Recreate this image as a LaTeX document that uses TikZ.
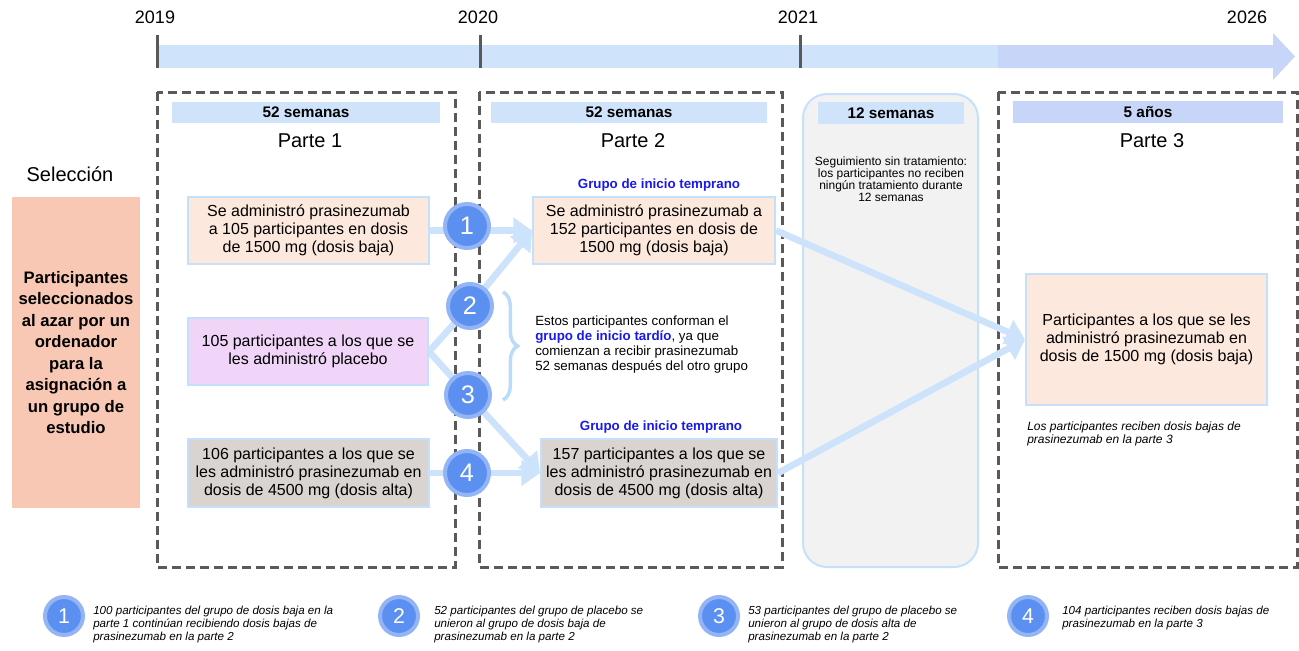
\documentclass[tikz,border=0pt]{standalone}
\usepackage{fontspec}
\setmainfont{Liberation Sans}
\usetikzlibrary{arrows.meta, decorations.pathreplacing}
\definecolor{barblue}{RGB}{207,228,251}
\definecolor{barlilac}{RGB}{199,213,249}
\definecolor{framegray}{RGB}{89,89,89}
\definecolor{edgeblue}{RGB}{197,224,250}
\definecolor{linkblue}{RGB}{204,227,251}
\definecolor{braceblue}{RGB}{186,220,250}
\definecolor{peach}{RGB}{253,232,221}
\definecolor{lilac}{RGB}{240,213,248}
\definecolor{greige}{RGB}{217,212,208}
\definecolor{salmon}{RGB}{248,200,180}
\definecolor{pausegray}{RGB}{242,242,242}
\definecolor{numblue}{RGB}{91,143,240}
\definecolor{ringblue}{RGB}{147,181,246}
\definecolor{textblue}{RGB}{25,25,235}

\pgfdeclarelayer{back}
\pgfdeclarelayer{mid}
\pgfsetlayers{back,mid,main}

\tikzset{
  boxsize/.style 2 args={minimum width=#1*0.75pt, minimum height=#2*0.75pt},
  armbox/.style={draw=edgeblue, line width=1.5pt, inner sep=0pt, align=center, font=\fontsize{12}{13.6}\selectfont},
  weekbar/.style={fill=barblue, inner sep=0pt, font=\bfseries\fontsize{11.5}{12}\selectfont},
  parttitle/.style={font=\fontsize{15}{16}\selectfont},
  yearlabel/.style={font=\fontsize{13.5}{14}\selectfont},
  grouplabel/.style={text=textblue, font=\bfseries\fontsize{10}{11}\selectfont},
  dashframe/.style={draw=framegray, line width=2.25pt, dash pattern=on 7pt off 3.5pt},
  numdot/.style={circle, fill=numblue, draw=ringblue, line width=3pt, minimum size=33pt, inner sep=0pt, text=white, font=\fontsize{19}{19}\selectfont},
  keydot/.style={numdot, minimum size=28.5pt, font=\fontsize{16}{16}\selectfont},
  link/.style={draw=linkblue, line width=5pt},
  linkarrow/.style={link, -{Triangle[length=14pt, width=19pt]}},
  keytext/.style={anchor=west, align=left, inner sep=0pt, font=\itshape\fontsize{8.7}{9.4}\selectfont},
}

\begin{document}
\begin{tikzpicture}[x=0.75pt, y=-0.75pt]
\useasboundingbox (0,0) rectangle (1299,650);

% timeline
\fill[barblue] (157,45) rectangle (998,68);
\fill[barlilac] (998,45) -- (1273,45) -- (1273,33) -- (1295,56.5) -- (1273,80) -- (1273,68) -- (998,68) -- cycle;
\foreach \x/\yr in {157/2019, 480/2020, 800/2021}{
  \draw[framegray, line width=2.25pt] (\x,35) -- (\x,68);
  \node[yearlabel] (y\yr) at (\x-2,17) {\yr};
}
\node[yearlabel] (y2026) at (1247,17) {2026};

% frames
\begin{pgfonlayer}{back}
\draw[dashframe] (157,92) rectangle (455,567);
\draw[dashframe] (479,92) rectangle (782,567);
\draw[dashframe] (998,92) rectangle (1297,567);
\draw[draw=edgeblue, fill=pausegray, line width=1.5pt, rounded corners=18pt] (803,94) rectangle (978,567);
\end{pgfonlayer}

% headers
\node[weekbar, boxsize={268}{21}] (wk1) at (306,112.5) {52 semanas};
\node[weekbar, boxsize={276}{21}] (wk2) at (629,112.5) {52 semanas};
\node[weekbar, boxsize={146}{22}] (wk3) at (891,113) {12 semanas};
\node[weekbar, fill=barlilac, boxsize={270}{22}] (wk4) at (1148,112) {5 años};
\node[parttitle] (p1) at (310,141) {Parte 1};
\node[parttitle] (p2) at (633,141) {Parte 2};
\node[parttitle] (p3) at (1152,141) {Parte 3};

% selection
\node[parttitle] (sel) at (70,174) {Selección};
\node[fill=salmon, boxsize={128}{311}, align=center, inner sep=0pt, font=\bfseries\fontsize{12.5}{16.1}\selectfont] (rand) at (76,352.5)
  {Participantes\\ seleccionados\\ al azar por un\\ ordenador\\ para la\\ asignación a\\ un grupo de\\ estudio};

% part 1
\node[armbox, fill=peach, boxsize={241}{67}] (low1) at (308.5,230.5) {Se administró prasinezumab\\ a 105 participantes en dosis\\ de 1500 mg (dosis baja)};
\node[armbox, fill=lilac, boxsize={240}{67}] (plac1) at (308,351.5) {105 participantes a los que se\\ les administró placebo};
\node[armbox, fill=greige, boxsize={241}{68}] (high1) at (308.5,473) {106 participantes a los que se\\ les administró prasinezumab en\\ dosis de 4500 mg (dosis alta)};

% part 2
\node[grouplabel] (early1) at (659,185) {Grupo de inicio temprano};
\node[armbox, fill=peach, boxsize={242}{67}] (low2) at (654,230.5) {Se administró prasinezumab a\\ 152 participantes en dosis de\\ 1500 mg (dosis baja)};
\node[grouplabel] (early2) at (661,427) {Grupo de inicio temprano};
\node[armbox, fill=greige, boxsize={236}{68}] (high2) at (659,473) {157 participantes a los que se\\ les administró prasinezumab en\\ dosis de 4500 mg (dosis alta)};
\draw[braceblue, line width=2.6pt, decorate, decoration={brace, amplitude=11pt}] (503,292) -- (503,400);
\node[anchor=west, align=left, inner sep=0pt, font=\fontsize{10}{11.25}\selectfont] (late) at (535,344.5)
  {Estos participantes conforman el\\ \textcolor{textblue}{\bfseries grupo de inicio tardío}, ya que\\ comienzan a recibir prasinezumab\\ 52 semanas después del otro grupo};

% pause
\node[align=center, font=\fontsize{9}{9}\selectfont] (pause) at (891,179) {Seguimiento sin tratamiento:\\ los participantes no reciben\\ ningún tratamiento durante\\ 12 semanas};

% part 3
\node[armbox, fill=peach, boxsize={241}{131}] (low3) at (1146.5,339.5) {Participantes a los que se les\\ administró prasinezumab en\\ dosis de 1500 mg (dosis baja)};
\node[keytext, font=\itshape\fontsize{9}{9.75}\selectfont] (note3) at (1027,433.5) {Los participantes reciben dosis bajas de\\ prasinezumab en la parte 3};

% numbered steps
\node[numdot] (n1) at (467,226) {1};
\node[numdot] (n2) at (470,306) {2};
\node[numdot] (n3) at (468,395) {3};
\node[numdot] (n4) at (467,473) {4};

\begin{pgfonlayer}{mid}
\draw[linkarrow] (low1.east) -- (low2.west);
\draw[link] (plac1.east) -- (n2.center);
\draw[link] (plac1.east) -- (n3.center);
\draw[linkarrow] (n2.center) -- (low2.west);
\draw[linkarrow] (n3.center) -- (high2.west);
\draw[linkarrow] (high1.east) -- (high2.west);
\draw[linkarrow] (low2.east) -- (low3.west);
\draw[linkarrow] (high2.east) -- (low3.west);
\end{pgfonlayer}

% key
\node[keydot] (k1) at (64,616) {1};
\node[keytext] (t1) at (93,624.5) {100 participantes del grupo de dosis baja en la\\ parte 1 continúan recibiendo dosis bajas de\\ prasinezumab en la parte 2};
\node[keydot] (k2) at (399,616) {2};
\node[keytext] (t2) at (434,624.5) {52 participantes del grupo de placebo se\\ unieron al grupo de dosis baja de\\ prasinezumab en la parte 2};
\node[keydot] (k3) at (719,616) {3};
\node[keytext] (t3) at (748,624.5) {53 participantes del grupo de placebo se\\ unieron al grupo de dosis alta de\\ prasinezumab en la parte 2};
\node[keydot] (k4) at (1028,616) {4};
\node[keytext] (t4) at (1062,618.25) {104 participantes reciben dosis bajas de\\ prasinezumab en la parte 3};
\end{tikzpicture}
\end{document}
